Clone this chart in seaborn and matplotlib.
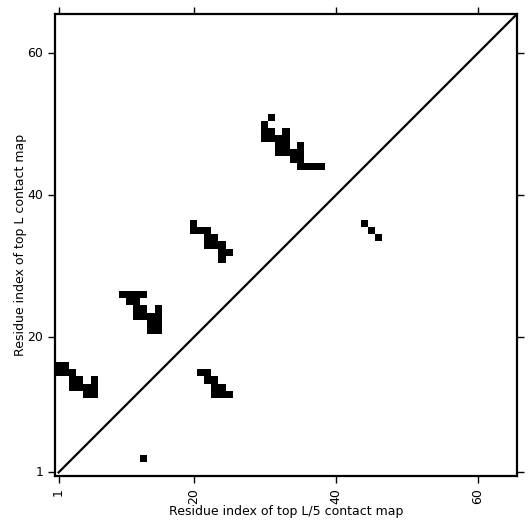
import numpy as np
import matplotlib
matplotlib.use("Agg")
import matplotlib.pyplot as plt
import seaborn as sns
from matplotlib.colors import ListedColormap

L = 65

# top L contacts (i < j), drawn above the diagonal at (x=i, y=j)
top_L_i = [1, 2, 1, 2, 3, 3, 4, 6, 3, 4, 5, 6, 5, 6,
           10, 11, 12, 13, 11, 12, 12, 13, 15, 12, 13, 14, 15, 14, 15, 14, 15,
           20, 20, 21, 22, 22, 23, 22, 23, 24, 24, 25, 24,
           31, 30, 30, 31, 33, 30, 31, 32, 33, 32, 33, 35, 32, 33, 34, 35,
           34, 35, 35, 36, 37, 38]
top_L_j = [16, 16, 15, 15, 15, 14, 14, 14, 13, 13, 13, 13, 12, 12,
           26, 26, 26, 26, 25, 25, 24, 24, 24, 23, 23, 23, 23, 22, 22, 21, 21,
           36, 35, 35, 35, 34, 34, 33, 33, 33, 32, 32, 31,
           51, 50, 49, 49, 49, 48, 48, 48, 48, 47, 47, 47, 46, 46, 46, 46,
           45, 45, 44, 44, 44, 44]

# top L/5 contacts (i < j), drawn below the diagonal at (x=j, y=i)
top_L5_i = [3, 12, 12, 12, 13, 13, 14, 14, 15, 15, 34, 35, 36]
top_L5_j = [13, 23, 24, 25, 23, 24, 22, 23, 21, 22, 46, 45, 44]

tick_vals = [1, 20, 40, 60]

cmap = np.zeros((L, L))
for i, j in zip(top_L_i, top_L_j):
    cmap[j - 1, i - 1] = 1
for i, j in zip(top_L5_i, top_L5_j):
    cmap[i - 1, j - 1] = 1

fig = plt.figure(figsize=(5.31, 5.31), dpi=100)
ax = fig.add_axes([0.1036, 0.1036, 0.87, 0.87])

sns.heatmap(cmap, cmap=ListedColormap(["white", "black"]), cbar=False,
            square=False, ax=ax)
ax.set_xlim(0, L)
ax.set_ylim(0, L)

# diagonal
ax.plot([0.5, L], [0.5, L], color="black", lw=1.6)

for sp in ax.spines.values():
    sp.set_visible(True)
    sp.set_linewidth(1.6)
    sp.set_color("black")

pos = [t - 0.5 for t in tick_vals]
ax.set_xticks(pos)
ax.set_xticklabels([str(t) for t in tick_vals], rotation=90, fontsize=9)
ax.set_yticks(pos)
ax.set_yticklabels([str(t) for t in tick_vals], rotation=0, fontsize=9)
ax.tick_params(direction="out", length=5, width=1, top=True, right=True,
               labeltop=False, labelright=False)

ax.set_xlabel("Residue index of top L/5 contact map", fontsize=9, labelpad=0.8)
ax.set_ylabel("Residue index of top L contact map", fontsize=9, labelpad=0.5)

fig.savefig("out.png", dpi=100)
